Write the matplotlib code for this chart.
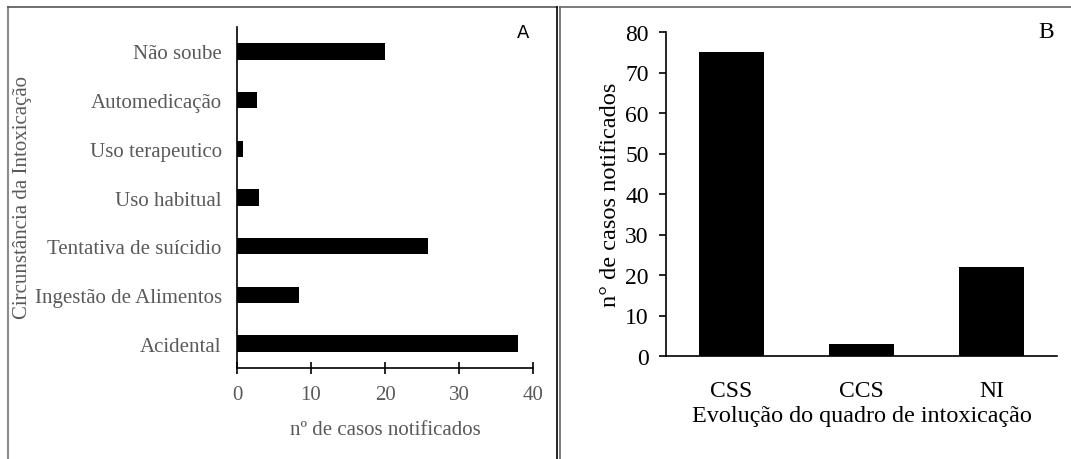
import matplotlib
matplotlib.use("Agg")
import matplotlib.pyplot as plt
from matplotlib.lines import Line2D
from matplotlib.transforms import Bbox

# ---- data ----
circ_labels = ["Acidental", "Ingestão de Alimentos", "Tentativa de suícidio",
               "Uso habitual", "Uso terapeutico", "Automedicação", "Não soube"]
circ_values = [38.0, 8.4, 25.8, 3.0, 0.8, 2.7, 20.0]
circ_xticks = [0, 10, 20, 30, 40]

evol_labels = ["CSS", "CCS", "NI"]
evol_values = [75, 3, 22]
evol_yticks = [0, 10, 20, 30, 40, 50, 60, 70, 80]

plt.rcParams['font.family'] = ['Liberation Serif', 'DejaVu Serif']

W, H = 1071, 460
fig = plt.figure(figsize=(W / 100, H / 100), dpi=100)
fig.patch.set_facecolor("white")

def fx(px):
    return px / W

def fy(py):
    return 1 - py / H

gray = "#595959"

# ---- panel borders ----
fig.add_artist(Line2D([fx(8), fx(8)], [fy(8), fy(470)], color="#8c8c8c", lw=1.5))
fig.add_artist(Line2D([fx(8), fx(557)], [fy(8), fy(8)], color="#555555", lw=1.2))
fig.add_artist(Line2D([fx(556.5), fx(556.5)], [fy(8), fy(470)], color="black", lw=1.2))
fig.add_artist(Line2D([fx(560), fx(560)], [fy(8), fy(470)], color="#666666", lw=1.2))
fig.add_artist(Line2D([fx(560), fx(1071)], [fy(8), fy(8)], color="#666666", lw=1.2))

# ---- Panel A ----
axA = fig.add_axes([fx(237), fy(369), fx(533) - fx(237), fy(28) - fy(369)])
ypos = list(range(len(circ_labels)))
axA.barh(ypos, circ_values, height=0.34, color="black")
axA.set_xlim(0, 40)
axA.set_ylim(-0.5, len(circ_labels) - 0.5)
axA.set_xticks(circ_xticks)
axA.set_yticks(ypos)
axA.set_yticklabels(circ_labels)
for s in ["top", "right"]:
    axA.spines[s].set_visible(False)
for s in ["left", "bottom"]:
    axA.spines[s].set_linewidth(1.2)
    axA.spines[s].set_color("black")
axA.tick_params(axis="x", direction="inout", length=9, width=1.2, colors="black",
                labelcolor=gray, labelsize=15, pad=8)
axA.tick_params(axis="y", length=0, labelcolor=gray, labelsize=15, pad=11)
axA.set_xlabel("nº de casos notificados", color=gray, fontsize=15, labelpad=11)
fig.text(fx(23), fy(198), "Circunstância da Intoxicação", color=gray, fontsize=15,
         rotation=90, ha="center", va="center")
fig.text(fx(523), fy(33), "A", fontsize=13, family="DejaVu Sans", ha="center", va="center")

# ---- Panel B ----
axB = fig.add_axes([fx(666), fy(357), fx(1057) - fx(666), fy(33) - fy(357)])
xpos = list(range(len(evol_labels)))
axB.bar(xpos, evol_values, width=0.5, color="black")
axB.set_xlim(-0.5, len(evol_labels) - 0.5)
axB.set_ylim(0, 80)
axB.set_yticks(evol_yticks)
axB.set_xticks(xpos)
axB.set_xticklabels(evol_labels)
for s in ["top", "right"]:
    axB.spines[s].set_visible(False)
for s in ["left", "bottom"]:
    axB.spines[s].set_linewidth(1.2)
    axB.spines[s].set_color("black")
axB.tick_params(axis="y", direction="out", length=5, width=1.2, labelsize=17, pad=7.5)
axB.tick_params(axis="x", length=0, labelsize=17, pad=17)
axB.set_xlabel("Evolução do quadro de intoxicação", fontsize=17.4, labelpad=3)
axB.set_ylabel("n° de casos notificados", fontsize=17.6, labelpad=3)
tB = fig.text(fx(1046), fy(33), "B", fontsize=17, ha="center", va="center")
tB.set_clip_box(Bbox.from_extents(0, 0, W, H - 23))
tB.set_clip_on(True)

fig.savefig("out.png", dpi=100, facecolor="white")
